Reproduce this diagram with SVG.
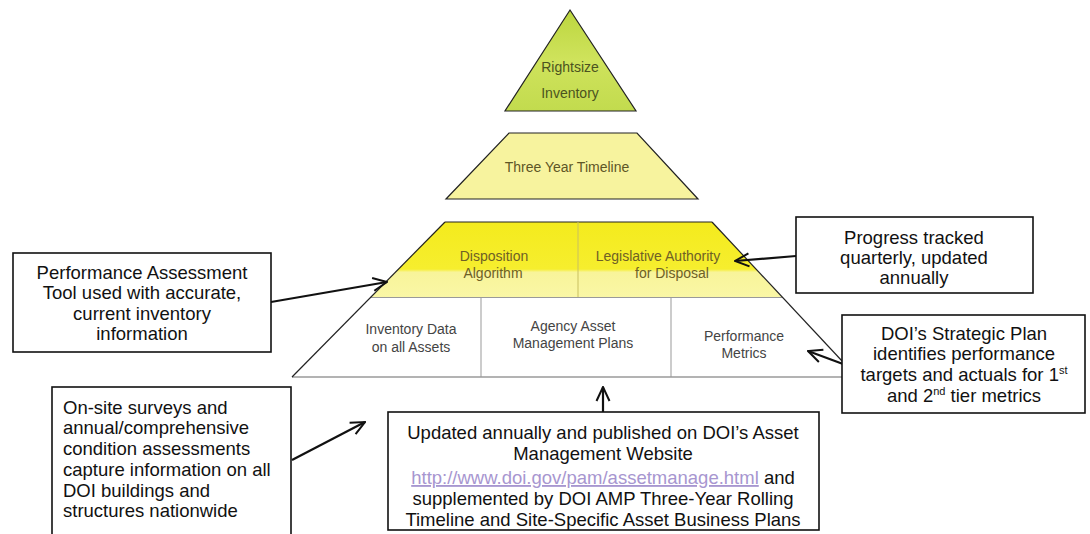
<svg xmlns="http://www.w3.org/2000/svg" width="1090" height="534" viewBox="0 0 1090 534">
<style>
.box{fill:#fff;stroke:#111;stroke-width:1.6}
.call{font-family:"Liberation Sans",Arial,sans-serif;font-size:18.5px;fill:#111}
.pyr{font-family:"Liberation Sans",Arial,sans-serif;font-size:14px}
.edge{stroke:#222;stroke-width:1.2}
.arrow{fill:none;stroke:#111;stroke-width:2.2}
.link{fill:#a796d0;text-decoration:underline}
</style>
<defs>
<linearGradient id="gGreen" x1="0" y1="0" x2="0" y2="1">
<stop offset="0" stop-color="#bcd63f"/>
<stop offset="0.5" stop-color="#cfe35c"/>
<stop offset="1" stop-color="#c2db4e"/>
</linearGradient>
<linearGradient id="gYellow" x1="0" y1="0" x2="0" y2="1">
<stop offset="0" stop-color="#f4eb1d"/>
<stop offset="0.62" stop-color="#f6ee2e"/>
<stop offset="0.66" stop-color="#f8f49a"/>
<stop offset="1" stop-color="#faf7a6"/>
</linearGradient>
<marker id="open" viewBox="0 0 16 16" refX="15" refY="8" markerWidth="16" markerHeight="16" markerUnits="userSpaceOnUse" orient="auto">
<path d="M1,1.5 L15,8 L1,14.5" fill="none" stroke="#111" stroke-width="2"/>
</marker>
</defs>

<g id="rightsize-inventory">
<polygon points="570,10 636,111 505,111" fill="url(#gGreen)" class="edge"/>
<text class="pyr" fill="#4b5320" text-anchor="middle" x="570" y="72">Rightsize</text>
<text class="pyr" fill="#4b5320" text-anchor="middle" x="570" y="98">Inventory</text>
</g>

<g id="three-year-timeline">
<polygon points="509,133 637,133 698,199 446,199" fill="#f7f39e" class="edge"/>
<text class="pyr" fill="#5e5626" text-anchor="middle" x="567" y="172">Three Year Timeline</text>
</g>

<g id="tier-yellow">
<polygon points="445,222 712,222 783,298 370,298" fill="url(#gYellow)" stroke="none"/>
<line x1="445" y1="222" x2="712" y2="222" class="edge"/>
<line x1="578" y1="222" x2="578" y2="298" stroke="#c9c060" stroke-width="1"/>
<line x1="370" y1="298" x2="783" y2="298" stroke="#9a9a9a" stroke-width="2"/>
<g id="disposition-algorithm">
<text class="pyr" fill="#6e6026" text-anchor="middle" x="494" y="261">Disposition</text>
<text class="pyr" fill="#6e6026" text-anchor="middle" x="493" y="278">Algorithm</text>
</g>
<g id="legislative-authority">
<text class="pyr" fill="#6e6026" text-anchor="middle" x="658" y="261">Legislative Authority</text>
<text class="pyr" fill="#6e6026" text-anchor="middle" x="672" y="278">for Disposal</text>
</g>
</g>

<g id="tier-white">
<polygon points="370,298 783,298 857,377 292,377" fill="#fff" stroke="none"/>
<line x1="292" y1="377" x2="857" y2="377" stroke="#9a9a9a" stroke-width="1.5"/>
<line x1="481" y1="298" x2="481" y2="377" stroke="#999" stroke-width="1"/>
<line x1="671" y1="298" x2="671" y2="377" stroke="#999" stroke-width="1"/>
<g id="inventory-data">
<text class="pyr" fill="#444" text-anchor="middle" x="411" y="334">Inventory Data</text>
<text class="pyr" fill="#444" text-anchor="middle" x="411" y="352">on all Assets</text>
</g>
<g id="agency-plans">
<text class="pyr" fill="#444" text-anchor="middle" x="573" y="331">Agency Asset</text>
<text class="pyr" fill="#444" text-anchor="middle" x="573" y="348">Management Plans</text>
</g>
<g id="performance-metrics">
<text class="pyr" fill="#444" text-anchor="middle" x="744" y="341">Performance</text>
<text class="pyr" fill="#444" text-anchor="middle" x="744" y="358">Metrics</text>
</g>
</g>

<g id="pyramid-edges">
<line x1="445" y1="222" x2="292" y2="377" class="edge"/>
<line x1="712" y1="222" x2="857" y2="377" class="edge"/>
</g>

<g id="connectors">
<line x1="271" y1="302" x2="387" y2="282" class="arrow" marker-end="url(#open)"/>
<line x1="796" y1="256" x2="735" y2="261" class="arrow" marker-end="url(#open)"/>
<line x1="843" y1="364" x2="808" y2="351" class="arrow" marker-end="url(#open)"/>
<line x1="292" y1="460" x2="365" y2="422" class="arrow" marker-end="url(#open)"/>
<line x1="603" y1="412" x2="603" y2="387" class="arrow" stroke-width="1.6" marker-end="url(#open)"/>
</g>

<g id="performance-assessment">
<rect class="box" x="13" y="253" width="258" height="99"/>
<text class="call" text-anchor="middle" x="142" y="279">Performance Assessment</text>
<text class="call" text-anchor="middle" x="142" y="299">Tool used with accurate,</text>
<text class="call" text-anchor="middle" x="142" y="320">current inventory</text>
<text class="call" text-anchor="middle" x="142" y="340">information</text>
</g>

<g id="progress-tracked">
<rect class="box" x="796" y="217" width="237" height="76"/>
<text class="call" text-anchor="middle" x="914" y="244">Progress tracked</text>
<text class="call" text-anchor="middle" x="914" y="264">quarterly, updated</text>
<text class="call" text-anchor="middle" x="914" y="284">annually</text>
</g>

<g id="strategic-plan">
<rect class="box" x="842" y="315" width="243" height="98"/>
<text class="call" text-anchor="middle" x="964" y="340">DOI’s Strategic Plan</text>
<text class="call" text-anchor="middle" x="964" y="360">identifies performance</text>
<text class="call" text-anchor="middle" x="964" y="381">targets and actuals for 1<tspan font-size="11" dy="-7">st</tspan></text>
<text class="call" text-anchor="middle" x="964" y="402">and 2<tspan font-size="11" dy="-7">nd</tspan><tspan dy="7"> tier metrics</tspan></text>
</g>

<g id="onsite-surveys">
<rect class="box" x="52" y="387" width="239" height="160"/>
<text class="call" x="63" y="414">On-site surveys and</text>
<text class="call" x="63" y="434">annual/comprehensive</text>
<text class="call" x="63" y="455">condition assessments</text>
<text class="call" x="63" y="476">capture information on all</text>
<text class="call" x="63" y="497">DOI buildings and</text>
<text class="call" x="63" y="517">structures nationwide</text>
</g>

<g id="updated-annually">
<rect class="box" x="388" y="412" width="431" height="118"/>
<text class="call" text-anchor="middle" x="603" y="439">Updated annually and published on DOI’s Asset</text>
<text class="call" text-anchor="middle" x="603" y="460">Management Website</text>
<text class="call" text-anchor="middle" x="603" y="484"><tspan class="link">http://www.doi.gov/pam/assetmanage.html</tspan> and</text>
<text class="call" text-anchor="middle" x="603" y="505">supplemented by DOI AMP Three-Year Rolling</text>
<text class="call" text-anchor="middle" x="603" y="526">Timeline and Site-Specific Asset Business Plans</text>
</g>
</svg>
